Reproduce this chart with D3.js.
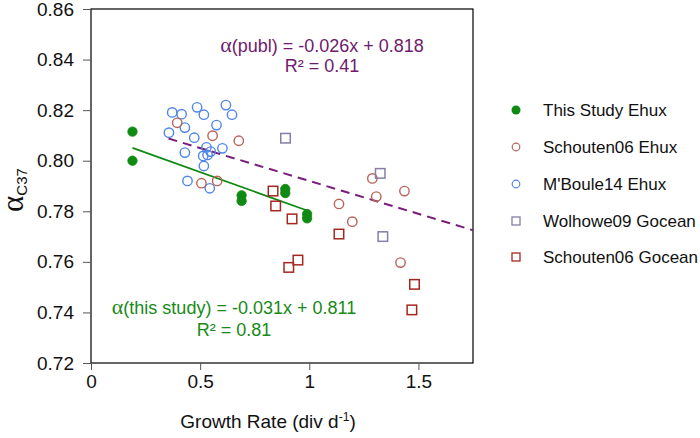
<!DOCTYPE html>
<html>
<head>
<meta charset="utf-8">
<script src="https://cdn.jsdelivr.net/npm/d3@7"></script>
<style>
  body { margin: 0; background: #fff; }
  svg { display: block; }
  text { font-family: "Liberation Sans", Arial, sans-serif; }
</style>
</head>
<body>
<svg id="chart" width="700" height="438"></svg>
<script>
// ---- data ----
const xTicks = [0, 0.5, 1, 1.5];
const xTickLabels = ["0", "0.5", "1", "1.5"];
const yTicks = [0.72, 0.74, 0.76, 0.78, 0.80, 0.82, 0.84, 0.86];
const yTickLabels = ["0.72", "0.74", "0.76", "0.78", "0.80", "0.82", "0.84", "0.86"];

const thisStudyX = [0.19, 0.19, 0.69, 0.69, 0.89, 0.89, 0.99, 0.99];
const thisStudyY = [0.8115, 0.800, 0.7863, 0.7841, 0.7888, 0.7872, 0.7789, 0.7772];

const schouten06EhuxX = [0.395, 0.557, 0.677, 0.506, 0.578, 1.289, 1.307, 1.436, 1.136, 1.197, 1.418];
const schouten06EhuxY = [0.8150, 0.8099, 0.8079, 0.7911, 0.7920, 0.7930, 0.7858, 0.7880, 0.7829, 0.7759, 0.7597];

const mboule14X = [0.372, 0.415, 0.486, 0.517, 0.618, 0.646, 0.430, 0.575, 0.357, 0.473, 0.602, 0.430, 0.529, 0.514, 0.534, 0.548, 0.517, 0.442, 0.544];
const mboule14Y = [0.8191, 0.8184, 0.8211, 0.8182, 0.8220, 0.8182, 0.8131, 0.8141, 0.8111, 0.8091, 0.8049, 0.8032, 0.8053, 0.8019, 0.8023, 0.8036, 0.7979, 0.7920, 0.7891];

const wolhowe09X = [0.891, 1.325, 1.337];
const wolhowe09Y = [0.8089, 0.7950, 0.7700];

const schouten06GoceanX = [0.834, 0.846, 0.921, 0.948, 0.906, 1.136, 1.482, 1.470];
const schouten06GoceanY = [0.7880, 0.7821, 0.7770, 0.7607, 0.7578, 0.7710, 0.7511, 0.7410];

const seriesNames = ["This Study Ehux", "Schouten06 Ehux", "M'Boule14 Ehux", "Wolhowe09 Gocean", "Schouten06 Gocean"];

// trend lines (slope, intercept, x range)
const fitThisStudy = { slope: -0.031, intercept: 0.811, x0: 0.19, x1: 0.99 };
const fitPubl = { slope: -0.026, intercept: 0.818, x0: 0.355, x1: 1.75 };

// ---- layout ----
const svg = d3.select("#chart");
const L = 91, R = 473, T = 9, B = 363;
const x = d3.scaleLinear().domain([0, 1.75]).range([L, R]);
const y = d3.scaleLinear().domain([0.72, 0.86]).range([B, T]);

const colors = {
  green: "#0f8a12",
  brown: "#b8625a",
  blue: "#4f86e8",
  lav: "#857ea6",
  red: "#a4271f",
  purple: "#7b1c7b"
};

// frame
svg.append("rect").attr("x", L).attr("y", T).attr("width", R - L).attr("height", B - T)
  .attr("fill", "none").attr("stroke", "#000").attr("stroke-width", 1.2);

// axes
const yAxis = d3.axisLeft(y).tickValues(yTicks).tickFormat((d, i) => yTickLabels[i]).tickSize(8).tickPadding(9);
const gy = svg.append("g").attr("transform", `translate(${L},0)`).call(yAxis);
gy.select(".domain").remove();
gy.selectAll("line").attr("stroke", "#555");
gy.selectAll("text").attr("font-size", 19).attr("fill", "#111").attr("font-family", "Liberation Sans, Arial, sans-serif");

const xAxis = d3.axisBottom(x).tickValues(xTicks).tickFormat((d, i) => xTickLabels[i]).tickSize(7).tickPadding(5);
const gx = svg.append("g").attr("transform", `translate(0,${B})`).call(xAxis);
gx.select(".domain").remove();
gx.selectAll("line").attr("stroke", "#555");
gx.selectAll("text").attr("font-size", 19).attr("fill", "#111").attr("font-family", "Liberation Sans, Arial, sans-serif");

// axis titles
const xt = svg.append("text").attr("x", 268).attr("y", 428).attr("text-anchor", "middle")
  .attr("font-size", 19).attr("fill", "#111");
xt.append("tspan").text("Growth Rate (div d");
xt.append("tspan").attr("font-size", 12).attr("dy", -7).text("-1");
xt.append("tspan").attr("dy", 7).text(")");

const yt = svg.append("text").attr("transform", "translate(23,190) rotate(-90)").attr("text-anchor", "middle").attr("fill", "#111");
yt.append("tspan").attr("font-family", "Liberation Serif, Times New Roman, serif").attr("font-size", 31).text("α");
yt.append("tspan").attr("font-size", 15).attr("dy", 4).text("C37");

// trend lines
const plot = svg.append("g");
plot.append("line")
  .attr("x1", x(fitPubl.x0)).attr("y1", y(fitPubl.slope * fitPubl.x0 + fitPubl.intercept))
  .attr("x2", x(fitPubl.x1)).attr("y2", y(fitPubl.slope * fitPubl.x1 + fitPubl.intercept))
  .attr("stroke", colors.purple).attr("stroke-width", 2).attr("stroke-dasharray", "9,6");
plot.append("line")
  .attr("x1", x(fitThisStudy.x0)).attr("y1", y(fitThisStudy.slope * fitThisStudy.x0 + fitThisStudy.intercept))
  .attr("x2", x(fitThisStudy.x1)).attr("y2", y(fitThisStudy.slope * fitThisStudy.x1 + fitThisStudy.intercept))
  .attr("stroke", colors.green).attr("stroke-width", 1.8);

function zip(xs, ys) { return xs.map((v, i) => [v, ys[i]]); }

const sym = 4.7;
function circles(data, stroke, fill) {
  plot.append("g").selectAll("circle").data(data).enter().append("circle")
    .attr("cx", d => x(d[0])).attr("cy", d => y(d[1])).attr("r", sym)
    .attr("fill", fill).attr("stroke", stroke).attr("stroke-width", fill === "none" ? 1.4 : 0.8);
}
function squares(data, stroke) {
  const s = 9.5;
  plot.append("g").selectAll("rect").data(data).enter().append("rect")
    .attr("x", d => x(d[0]) - s / 2).attr("y", d => y(d[1]) - s / 2).attr("width", s).attr("height", s)
    .attr("fill", "none").attr("stroke", stroke).attr("stroke-width", 1.5);
}
circles(zip(mboule14X, mboule14Y), colors.blue, "none");
circles(zip(schouten06EhuxX, schouten06EhuxY), colors.brown, "none");
squares(zip(wolhowe09X, wolhowe09Y), colors.lav);
squares(zip(schouten06GoceanX, schouten06GoceanY), colors.red);
circles(zip(thisStudyX, thisStudyY), colors.green, colors.green);

// annotations
const a1 = svg.append("text").attr("x", 322).attr("y", 52).attr("text-anchor", "middle").attr("font-size", 18).attr("fill", "#6e1a6e");
a1.append("tspan").attr("font-family", "Liberation Serif, Times New Roman, serif").attr("font-size", 22).text("α");
a1.append("tspan").text("(publ) = -0.026x + 0.818");
svg.append("text").attr("x", 322).attr("y", 72).attr("text-anchor", "middle").attr("font-size", 18).attr("fill", "#6e1a6e").text("R² = 0.41");

const a2 = svg.append("text").attr("x", 234).attr("y", 314).attr("text-anchor", "middle").attr("font-size", 18).attr("fill", "#178a17");
a2.append("tspan").attr("font-family", "Liberation Serif, Times New Roman, serif").attr("font-size", 22).text("α");
a2.append("tspan").text("(this study) = -0.031x + 0.811");
svg.append("text").attr("x", 234).attr("y", 336).attr("text-anchor", "middle").attr("font-size", 18).attr("fill", "#178a17").text("R² = 0.81");

// legend
const legY = [110, 147, 184, 221, 257];
const lg = svg.append("g");
const lx = 516;
lg.append("circle").attr("cx", lx).attr("cy", legY[0]).attr("r", 4.5).attr("fill", colors.green);
lg.append("circle").attr("cx", lx).attr("cy", legY[1]).attr("r", 3.8).attr("fill", "none").attr("stroke", colors.brown).attr("stroke-width", 1.2);
lg.append("circle").attr("cx", lx).attr("cy", legY[2]).attr("r", 3.8).attr("fill", "none").attr("stroke", colors.blue).attr("stroke-width", 1.2);
lg.append("rect").attr("x", lx - 4).attr("y", legY[3] - 4).attr("width", 8).attr("height", 8).attr("fill", "none").attr("stroke", colors.lav).attr("stroke-width", 1.3);
lg.append("rect").attr("x", lx - 4).attr("y", legY[4] - 4).attr("width", 8).attr("height", 8).attr("fill", "none").attr("stroke", colors.red).attr("stroke-width", 1.3);
lg.selectAll("text.leg").data(seriesNames).enter().append("text").attr("class", "leg")
  .attr("x", 543).attr("y", (d, i) => legY[i] + 6).attr("font-size", 17).attr("fill", "#111").text(d => d);
</script>
</body>
</html>
